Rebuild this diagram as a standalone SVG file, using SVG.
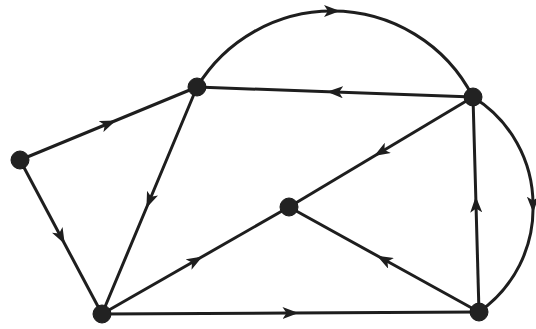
<svg xmlns="http://www.w3.org/2000/svg" width="536" height="329" viewBox="0 0 536 329">
<defs>
<style>
.e{fill:none;stroke:#1e1e1e;stroke-width:3;marker-mid:url(#ah)}
.n{fill:#222;stroke:#1a1a1a;stroke-width:1}
</style>
<marker id="ah" viewBox="0 0 16 12" refX="8" refY="6" markerWidth="16" markerHeight="12" markerUnits="userSpaceOnUse" orient="auto">
<path d="M0,0 L16,6 L0,12 L4,6 z" fill="#1e1e1e"/>
</marker>
</defs>
<rect width="536" height="329" fill="#fff"/>
<g id="connectors">
<path class="e" d="M20,160 L108.5,123.5 L197,87"/>
<path class="e" d="M20,160 L61,237 L102,314"/>
<path class="e" d="M197,87 L149.5,200.5 L102,314"/>
<path class="e" d="M197,87 A158,158 0 0 1 332,11 A158,158 0 0 1 473,97"/>
<path class="e" d="M473,97 L335,92 L197,87"/>
<path class="e" d="M473,97 L381,152 L289,207"/>
<path class="e" d="M102,314 L195.5,260.5 L289,207"/>
<path class="e" d="M479,312 L384,259.5 L289,207"/>
<path class="e" d="M479,312 L476,204.5 L473,97"/>
<path class="e" d="M473,97 A126.3,126.3 0 0 1 533,204.5 A126.3,126.3 0 0 1 479,312"/>
<path class="e" d="M102,314 L290.5,313 L479,312"/>
</g>
<g id="A"><circle class="n" cx="20" cy="160" r="9"/></g>
<g id="B"><circle class="n" cx="197" cy="87" r="9"/></g>
<g id="C"><circle class="n" cx="473" cy="97" r="9"/></g>
<g id="D"><circle class="n" cx="289" cy="207" r="9"/></g>
<g id="E"><circle class="n" cx="102" cy="314" r="9"/></g>
<g id="F"><circle class="n" cx="479" cy="312" r="9"/></g>
</svg>
